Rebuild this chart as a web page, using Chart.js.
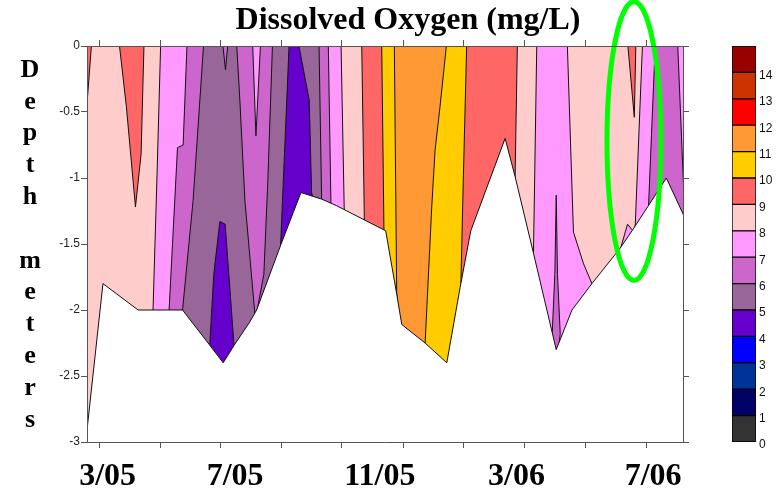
<!DOCTYPE html>
<html>
<head>
    <title>Dissolved Oxygen (mg/L)</title>
    <script src="https://cdn.jsdelivr.net/npm/chart.js"></script>
    <style>
        body {
            margin: 0;
            background-color: #fff;
        }
        .wrap {
            position: relative;
            width: 781px;
            height: 497px;
        }
        canvas {
            position: absolute;
            top: 0;
            display: block;
        }
        #doChart { left: 0; }
        #scaleBar { left: 700px; }
    </style>
</head>
<body>
    <div class="wrap">
        <canvas id="doChart" width="781" height="497"></canvas>
        <canvas id="scaleBar" width="81" height="497"></canvas>
    </div>

    <script>
        // x = day of year counted from 1 Jan 2005, y = depth in metres
        const chartTitle = 'Dissolved Oxygen (mg/L)';
        const depthLetters = ['D', 'e', 'p', 't', 'h', '', 'm', 'e', 't', 'e', 'r', 's'];

        const tickDays = [64, 117, 169, 222.5, 275, 328.5, 381, 434, 487, 540];
        const labelDays = [71, 182, 308, 427, 546];
        const labelText = ['3/05', '7/05', '11/05', '3/06', '7/06'];

        // one colour per 1 mg/L class, 0-1 up to 14-15
        const levelColors = ['#333333', '#000066', '#003399', '#0000ff', '#6600cc', '#996699', '#cc66cc',
            '#ff99ff', '#ffcccc', '#ff6666', '#ffcc00', '#ff9933', '#ff0000', '#cc3300', '#990000'];

        // contour lines from the surface down, class to the right of each line
        const edgeLevel = [9, 8, 7, 6, 5, 6, 5, 4, 5, 6, 7, 8, 9, 10, 11, 10, 9, 8, 7, 8, 7, 6, 7];
        const edgeLine = [
            [[53, 0], [53, -3]],
            [[57.1, 0], [53, -0.61]],
            [[117.2, 0], [114.0, -0.97], [110.5, -2.0]],
            [[140.2, 0], [136.7, -0.75], [131.8, -0.77], [124.5, -2.0]],
            [[154.7, 0], [145.4, -1.17], [136.2, -2.0]],
            [[183.2, 0], [186.1, -0.41], [190.5, -1.17], [199.2, -2.03]],
            [[214.6, 0], [210.5, -1.02], [207.0, -1.73], [201.2, -2.0]],
            [[229.1, 0], [221.6, -1.51]],
            [[236.9, 0], [246.5, -0.41], [248.6, -1.12], [248.8, -1.14]],
            [[255.0, 0], [257.3, -1.16]],
            [[263.1, 0], [265.4, -1.19]],
            [[274.2, 0], [277.0, -1.24]],
            [[292.2, 0], [294.5, -1.31]],
            [[309.6, 0], [311.6, -1.40]],
            [[320.6, 0], [322.7, -1.88]],
            [[366.3, 0], [360.4, -0.46], [356.1, -0.79], [353.2, -1.22], [347.4, -2.26]],
            [[383.7, 0], [380.8, -0.97], [378.5, -1.83]],
            [[427.8, 0], [425.8, -0.99]],
            [[444.7, 0], [441.8, -1.57]],
            [[471.2, 0], [476.6, -1.41], [485.4, -1.65], [492.7, -1.80]],
            [[536.8, 0], [530.4, -1.36]],
            [[547.9, 0], [542.0, -1.21]],
            [[567.3, 0], [572, -1.28]]
        ];

        // closed pockets inside the bands
        const patchLevel = [9, 6, 4, 7, 6, 9, 7];
        const patchLine = [
            [[80.9, 0], [87.3, -0.46], [95.2, -1.22], [100.1, -0.82], [102.7, 0]],
            [[171.0, 0], [173.6, -0.18], [175.9, 0]],
            [[159.8, -2.28], [163.4, -1.73], [168.7, -1.33], [173.3, -1.35], [176.5, -1.73], [181.2, -2.29], [171.6, -2.6]],
            [[197.2, 0], [200.1, -0.68], [204.2, 0]],
            [[461.6, -1.13], [462.7, -1.73], [465.1, -2.18], [461.6, -2.45], [458.1, -2.18], [460.4, -1.73]],
            [[523.7, 0], [529.6, -0.54], [531.0, 0]],
            [[517.4, -1.54], [523.7, -1.35], [528.4, -1.40], [528.4, -1.6], [517.4, -1.6]]
        ];

        // sampled bottom depth
        const bottomLine = [[53, -3], [66.9, -1.8], [97.5, -2.0], [136.2, -2.0], [159.3, -2.26], [171.6, -2.4],
            [180.9, -2.27], [194.8, -2.09], [200.7, -2.0], [221.6, -1.51], [239.3, -1.11], [257.3, -1.16],
            [270.4, -1.21], [295.1, -1.32], [313.1, -1.40], [322.7, -1.88], [327.1, -2.11], [334.3, -2.16],
            [347.4, -2.25], [366.3, -2.4], [377.9, -1.83], [387.2, -1.40], [417.1, -0.70], [425.8, -0.99],
            [441.8, -1.57], [461.6, -2.30], [475.3, -2.0], [492.7, -1.80], [517.4, -1.53], [528.4, -1.39],
            [557.5, -1.0], [572, -1.30]];

        const xMin = 53, xMax = 572, yMin = -3, yMax = 0;

        // points on the frame are pushed just outside it, so the clipped
        // outline only shows the contour and bottom lines
        function toPoints(list) {
            return list.map(p => ({
                x: p[0] <= xMin ? xMin - 1.5 : p[0] >= xMax ? xMax + 1.5 : p[0],
                y: p[1] >= yMax ? yMax + 0.03 : p[1] <= yMin ? yMin - 0.03 : p[1]
            }));
        }

        function region(points, color) {
            return {
                data: points,
                fill: 'shape',
                backgroundColor: color,
                borderColor: '#111',
                borderWidth: 1,
                pointRadius: 0,
                pointHoverRadius: 0,
                tension: 0
            };
        }

        const datasets = [];
        edgeLine.forEach((line, i) => {
            const last = line[line.length - 1];
            const shape = [...line, [last[0], yMin], [xMax, yMin], [xMax, yMax], line[0]];
            datasets.push(region(toPoints(shape), levelColors[edgeLevel[i]]));
        });
        patchLine.forEach((line, i) => {
            datasets.push(region(toPoints([...line, line[0]]), levelColors[patchLevel[i]]));
        });
        datasets.push(region(toPoints([...bottomLine, [xMax, yMin], bottomLine[0]]), '#ffffff'));
        // first dataset painted first, later ones on top
        datasets.forEach((d, i) => { d.order = datasets.length - i; });

        const textPlugin = {
            id: 'textPlugin',
            afterDraw(chart) {
                const ctx = chart.ctx;
                ctx.save();
                ctx.fillStyle = '#000';
                ctx.textAlign = 'center';
                ctx.textBaseline = 'middle';
                ctx.font = 'bold 32px "Liberation Serif"';
                ctx.fillText(chartTitle, 408, 21);
                ctx.font = 'bold 26px "Liberation Serif"';
                depthLetters.forEach((ch, i) => ctx.fillText(ch, 30, 70 + i * 31.8));
                ctx.restore();
            }
        };

        // green ring drawn around the July 2006 profiles
        const ringPlugin = {
            id: 'ringPlugin',
            afterDatasetsDraw(chart) {
                const x = chart.scales.x, y = chart.scales.y;
                const cx = x.getPixelForValue(529.3);
                const cy = y.getPixelForValue(-0.72);
                const rx = x.getPixelForValue(529.3 + 23.5) - cx;
                const ry = y.getPixelForValue(-0.72 - 1.056) - cy;
                const ctx = chart.ctx;
                ctx.save();
                ctx.strokeStyle = '#00ff00';
                ctx.lineWidth = 5;
                ctx.beginPath();
                ctx.ellipse(cx, cy, rx, Math.abs(ry), 0, 0, Math.PI * 2);
                ctx.stroke();
                ctx.restore();
            }
        };

        Chart.defaults.font.family = '"Liberation Sans", Arial, sans-serif';
        const frame = '#555';

        new Chart(document.getElementById('doChart'), {
            type: 'line',
            data: { datasets: datasets },
            options: {
                responsive: false,
                animation: false,
                events: [],
                layout: { padding: { top: 46, left: 0, right: 0, bottom: 0 } },
                plugins: { legend: { display: false }, tooltip: { enabled: false } },
                scales: {
                    x: {
                        type: 'linear', position: 'bottom', min: xMin, max: xMax,
                        afterBuildTicks: s => {
                            s.ticks = [...tickDays, ...labelDays].sort((a, b) => a - b).map(v => ({ value: v }));
                        },
                        afterFit: s => { s.height = 55; },
                        ticks: {
                            autoSkip: false, maxRotation: 0, padding: 10, color: '#000',
                            font: { family: '"Liberation Serif"', size: 32, weight: 'bold' },
                            callback: v => {
                                const k = labelDays.indexOf(v);
                                return k >= 0 ? labelText[k] : '';
                            }
                        },
                        grid: {
                            drawOnChartArea: false, tickLength: 6,
                            tickColor: c => tickDays.includes(c.tick.value) ? frame : 'rgba(0,0,0,0)'
                        },
                        border: { color: frame, z: 1 }
                    },
                    xTop: {
                        type: 'linear', axis: 'x', position: 'top', min: xMin, max: xMax,
                        afterBuildTicks: s => { s.ticks = tickDays.map(v => ({ value: v })); },
                        afterFit: s => { s.height = 0; },
                        ticks: { display: false },
                        grid: { drawOnChartArea: false, tickLength: 6, color: frame },
                        border: { color: frame, z: 1 }
                    },
                    y: {
                        type: 'linear', position: 'left', min: yMin, max: yMax,
                        afterFit: s => { s.width = 87; },
                        ticks: { stepSize: 0.5, color: '#222', padding: 1, font: { size: 12 }, callback: v => String(v) },
                        grid: { drawOnChartArea: false, tickLength: 6, color: frame },
                        border: { color: frame, z: 1 }
                    },
                    yRight: {
                        type: 'linear', axis: 'y', position: 'right', min: yMin, max: yMax,
                        afterFit: s => { s.width = 98; },
                        ticks: { stepSize: 0.5, display: false },
                        grid: { drawOnChartArea: false, tickLength: 6, color: frame },
                        border: { color: frame, z: 1 }
                    }
                }
            },
            plugins: [textPlugin, ringPlugin]
        });

        // colour key
        new Chart(document.getElementById('scaleBar'), {
            type: 'bar',
            data: {
                labels: [''],
                datasets: levelColors.map((c, i) => ({
                    label: String(i),
                    data: [1],
                    backgroundColor: c,
                    borderColor: '#000',
                    borderWidth: 1,
                    borderSkipped: false,
                    barPercentage: 1,
                    categoryPercentage: 1
                }))
            },
            options: {
                responsive: false,
                animation: false,
                events: [],
                layout: { padding: { left: 32, top: 46, bottom: 55, right: 0 } },
                plugins: { legend: { display: false }, tooltip: { enabled: false } },
                scales: {
                    x: { stacked: true, display: false },
                    y: {
                        stacked: true, position: 'right', min: 0, max: 15,
                        afterFit: s => { s.width = 25; },
                        ticks: {
                            stepSize: 1, color: '#111', padding: 3, labelOffset: 3, font: { size: 12 },
                            callback: v => v < 15 ? v : ''
                        },
                        grid: { display: false, drawTicks: false },
                        border: { display: false }
                    }
                }
            }
        });
    </script>
</body>
</html>
